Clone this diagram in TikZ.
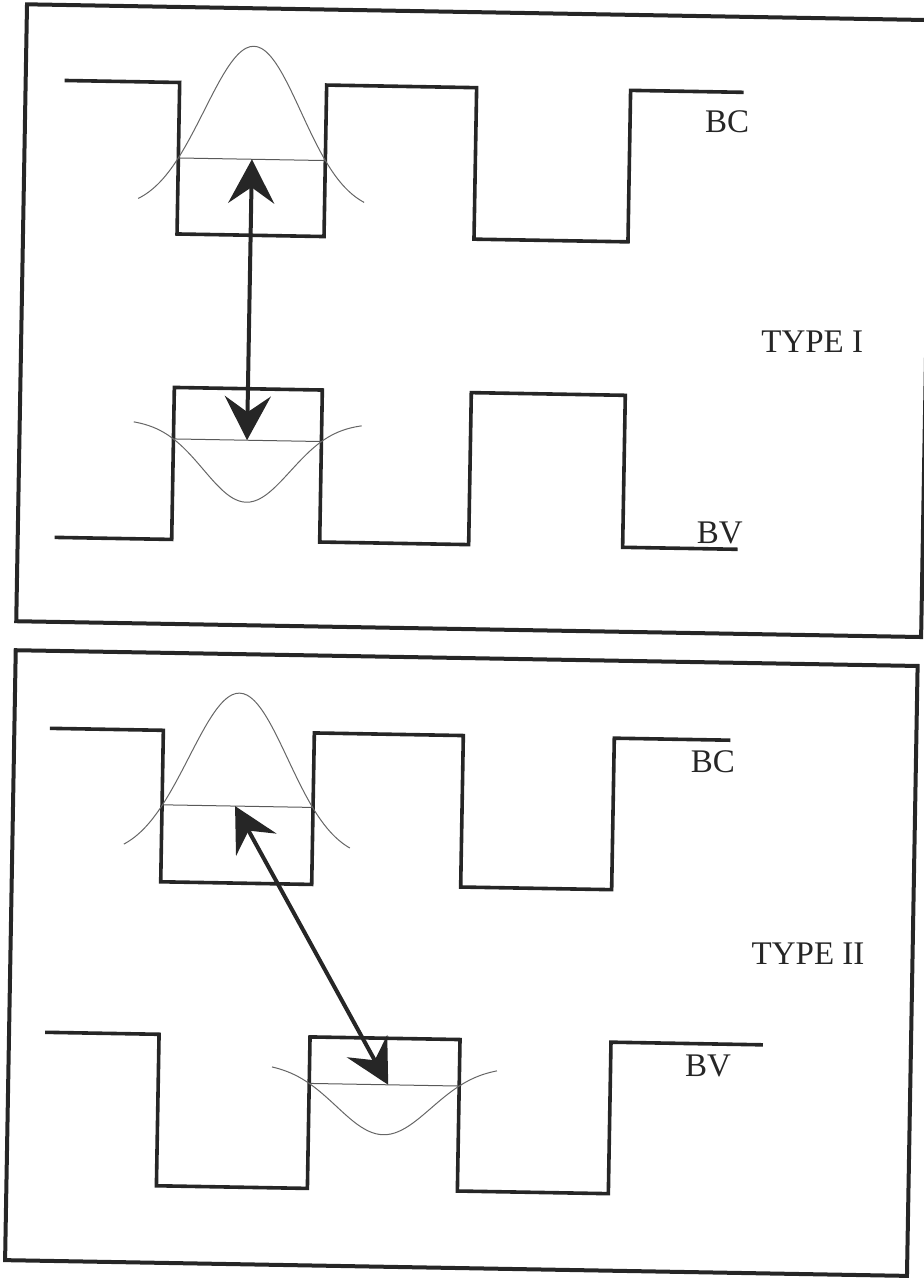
\documentclass[tikz,border=0pt]{standalone}
\usepackage{fontspec}
\setmainfont{Liberation Serif}
\usetikzlibrary{arrows.meta}
\begin{document}
\begin{tikzpicture}[x=0.5pt,y=-0.5pt,
        frame/.style={line width=2pt,draw=black!85},
        wave/.style={line width=1.8pt,draw=black!85,line join=miter},
        level/.style={line width=0.5pt,draw=black!65},
        wfn/.style={line width=0.5pt,draw=black!60},
        jump/.style={line width=2pt,draw=black!85,
            {Stealth[length=22pt,width=23pt,inset=8pt]}-{Stealth[length=22pt,width=23pt,inset=8pt]}},
        lab/.style={font=\fontsize{16.5}{20}\selectfont,text=black!85,inner sep=0pt}]
    \useasboundingbox (0,0) rectangle (923,1278);
    \begin{scope}[rotate around={-1:(461.5,639)}]
        % type I
        \draw[frame] (16,12) rectangle (921,629);
        \draw[wave] (55,87.5) -- (170,87.5) -- (170,239) -- (317,239) -- (317,87.5)
            -- (467,87.5) -- (467,239) -- (621,239) -- (621,87.5) -- (734,87.5);
        \draw[wave] (53,544.5) -- (170,544.5) -- (170,392.5) -- (318,392.5) -- (318,544.5)
            -- (467,544.5) -- (467,392.5) -- (621,392.5) -- (621,544.5) -- (736,544.5);
        \draw[level] (170,163) -- (317,163);
        \draw[level] (170,444) -- (318,444);
        \draw[wfn] plot[domain=-113:113,samples=61,smooth] ({243.5+\x},{215-165*exp(-(\x/48.4)^2/2)});
        \draw[wfn] plot[domain=-114:114,samples=61,smooth] ({244+\x},{425+81*exp(-(\x/43.5)^2/2)});
        \coordinate (c1) at (243.6,163);
        \coordinate (v1) at (243.6,444);
        \draw[jump] (c1) -- (v1);
        \node[lab] (bc1) at (718,117) {BC};
        \node[lab] (bv1) at (718,528.5) {BV};
        \node[lab] (type1) at (807,336) {TYPE I};

        % type II
        \draw[frame] (16,658) rectangle (918,1268);
        \draw[wave] (51.5,735.5) -- (165,735.5) -- (165,887) -- (316,887) -- (316,735.5)
            -- (465,735.5) -- (465,887) -- (616,887) -- (616,735.5) -- (732,735.5);
        \draw[wave] (52,1039.5) -- (166,1039.5) -- (166,1191) -- (317,1191) -- (317,1039.5)
            -- (467,1039.5) -- (467,1191) -- (618,1191) -- (618,1039.5) -- (770,1039.5);
        \draw[level] (165,810) -- (316,810);
        \draw[level] (317,1086) -- (467,1086);
        \draw[wfn] plot[domain=-113:113,samples=61,smooth] ({240.5+\x},{862-165*exp(-(\x/49.4)^2/2)});
        \draw[wfn] plot[domain=-112.5:112.5,samples=61,smooth] ({392+\x},{1066+70*exp(-(\x/47.4)^2/2)});
        \coordinate (c2) at (238,810);
        \coordinate (v2) at (396,1086);
        \draw[jump] (c2) -- (v2);
        \node[lab] (bc2) at (715,757.5) {BC};
        \node[lab] (bv2) at (715.5,1061.5) {BV};
        \node[lab] (type2) at (813.5,947.5) {TYPE II};
    \end{scope}
\end{tikzpicture}
\end{document}
